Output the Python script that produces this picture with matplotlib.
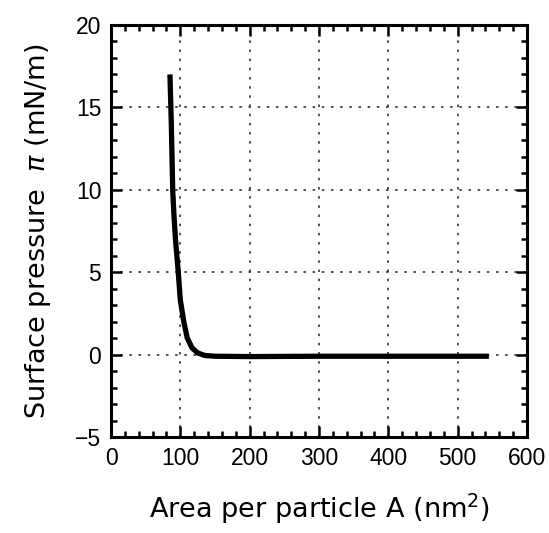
import matplotlib
matplotlib.use("Agg")
import matplotlib.pyplot as plt
from matplotlib.ticker import MultipleLocator

# pi-A isotherm
area = [85, 87, 89, 91, 93, 97, 100, 105, 110, 117, 125, 135, 150, 200, 300, 400, 545]
pressure = [17.0, 14.0, 10.0, 8.3, 7.0, 5.0, 3.3, 2.0, 1.0, 0.4, 0.1, -0.05, -0.1, -0.12, -0.1, -0.1, -0.1]

plt.rcParams["font.family"] = ["Liberation Sans", "DejaVu Sans"]


def main():
    fig = plt.figure(figsize=(5.49, 5.33), dpi=100)
    ax = fig.add_axes([111 / 549, 1 - 437 / 533, 416 / 549, 412 / 533])

    ax.plot(area, pressure, color="black", lw=3.8, solid_capstyle="butt")

    ax.set_xlim(0, 600)
    ax.set_ylim(-5, 20)
    ax.xaxis.set_major_locator(MultipleLocator(100))
    ax.xaxis.set_minor_locator(MultipleLocator(20))
    ax.yaxis.set_major_locator(MultipleLocator(5))
    ax.yaxis.set_minor_locator(MultipleLocator(1))

    ax.tick_params(which="both", direction="in", top=True, right=True,
                   width=1.8, labelsize=16.5, pad=7)
    ax.tick_params(which="major", length=8)
    ax.tick_params(which="minor", length=4.5)
    for s in ax.spines.values():
        s.set_linewidth(2.2)

    ax.grid(True, which="major", color="#333333", ls=(0, (1.5, 4)), lw=1.2)

    ax.set_xlabel("Area per particle A (nm$^2$)", fontsize=19.5,
                  family="DejaVu Sans", labelpad=16)
    ax.set_ylabel(r"Surface pressure  $\pi$ (mN/m)", fontsize=19.5,
                  family="DejaVu Sans", labelpad=16)

    fig.savefig("out.png", dpi=100)
    plt.close(fig)


if __name__ == "__main__":
    main()
